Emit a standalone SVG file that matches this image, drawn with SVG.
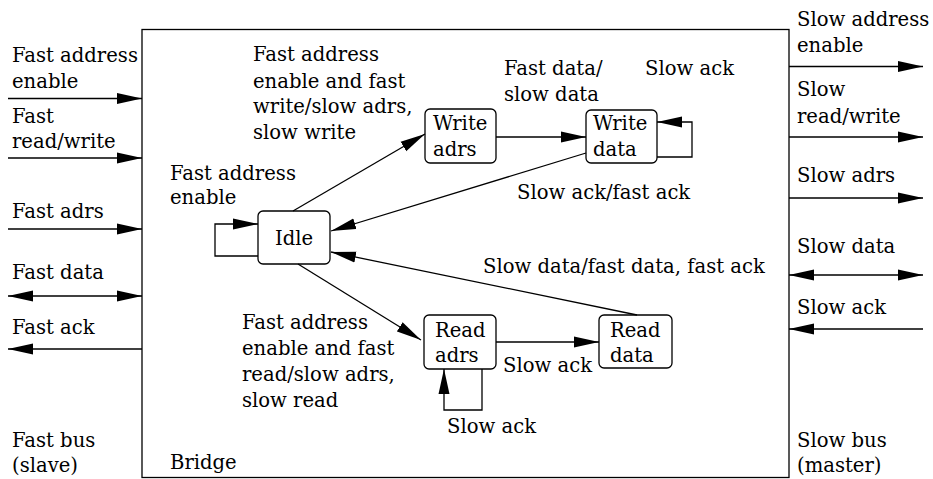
<svg xmlns="http://www.w3.org/2000/svg" width="933" height="479" viewBox="0 0 933 479">
<style>
text{font-family:"DejaVu Serif","Liberation Serif",serif;font-size:19.6px;fill:#000}
.ln{fill:none;stroke:#000;stroke-width:1.3}
.nd{fill:#fff;stroke:#000;stroke-width:1.3}
</style>
<defs>
<marker id="ah" markerUnits="userSpaceOnUse" markerWidth="25" markerHeight="12" refX="25" refY="5.5" orient="auto-start-reverse" viewBox="0 0 25 11">
<path d="M0,0 L25,5.5 L0,11 z" fill="#000"/>
</marker>
</defs>
<rect width="933" height="479" fill="#fff"/>
<g id="bridge">
<rect x="142" y="29.5" width="647" height="448" fill="none" stroke="#000" stroke-width="1.3"/>
<text x="170" y="469">Bridge</text>
</g>
<g id="fast-bus">
<text x="12" y="62">Fast address</text><text x="12" y="88">enable</text>
<text x="12" y="123">Fast</text><text x="12" y="148">read/write</text>
<text x="12" y="218">Fast adrs</text>
<text x="12" y="279">Fast data</text>
<text x="12" y="334">Fast ack</text>
<text x="12" y="447">Fast bus</text><text x="12" y="472">(slave)</text>
</g>
<g id="slow-bus">
<text x="797" y="26">Slow address</text><text x="797" y="52">enable</text>
<text x="797" y="96">Slow</text><text x="797" y="123">read/write</text>
<text x="797" y="182">Slow adrs</text>
<text x="797" y="253">Slow data</text>
<text x="797" y="314">Slow ack</text>
<text x="797" y="447">Slow bus</text><text x="797" y="472">(master)</text>
</g>
<g id="idle"><rect class="nd" x="258" y="211" width="72" height="53" rx="5"/><text x="294" y="245" text-anchor="middle">Idle</text></g>
<g id="write-adrs"><rect class="nd" x="425" y="109" width="71" height="54" rx="5"/><text x="433" y="130">Write</text><text x="433" y="156">adrs</text></g>
<g id="write-data"><rect class="nd" x="586" y="110" width="71" height="53" rx="5"/><text x="593" y="130">Write</text><text x="593" y="156">data</text></g>
<g id="read-adrs"><rect class="nd" x="424" y="315" width="72" height="54" rx="5"/><text x="435" y="337">Read</text><text x="435" y="362">adrs</text></g>
<g id="read-data"><rect class="nd" x="599" y="315" width="73" height="53" rx="5"/><text x="610" y="337">Read</text><text x="610" y="362">data</text></g>
<g id="connectors">
<line class="ln" x1="8" y1="98.5" x2="142" y2="98.5" marker-end="url(#ah)"/>
<line class="ln" x1="8" y1="158" x2="142" y2="158" marker-end="url(#ah)"/>
<line class="ln" x1="8" y1="229" x2="142" y2="229" marker-end="url(#ah)"/>
<line class="ln" x1="8" y1="296" x2="142" y2="296" marker-start="url(#ah)" marker-end="url(#ah)"/>
<line class="ln" x1="142" y1="349" x2="8" y2="349" marker-end="url(#ah)"/>
<line class="ln" x1="789" y1="66.5" x2="923" y2="66.5" marker-end="url(#ah)"/>
<line class="ln" x1="789" y1="137" x2="923" y2="137" marker-end="url(#ah)"/>
<line class="ln" x1="789" y1="198" x2="923" y2="198" marker-end="url(#ah)"/>
<line class="ln" x1="789" y1="275" x2="923" y2="275" marker-start="url(#ah)" marker-end="url(#ah)"/>
<line class="ln" x1="923" y1="329" x2="789" y2="329" marker-end="url(#ah)"/>
<path class="ln" d="M258,256 H215 V224 H258" marker-end="url(#ah)"/>
<line class="ln" x1="293" y1="211" x2="425" y2="134" marker-end="url(#ah)"/>
<line class="ln" x1="496" y1="137" x2="586" y2="137" marker-end="url(#ah)"/>
<path class="ln" d="M657,157 H692 V122 H657" marker-end="url(#ah)"/>
<line class="ln" x1="586" y1="153" x2="331" y2="231" marker-end="url(#ah)"/>
<line class="ln" x1="637" y1="315" x2="331" y2="252" marker-end="url(#ah)"/>
<line class="ln" x1="298" y1="264" x2="421" y2="340" marker-end="url(#ah)"/>
<line class="ln" x1="496" y1="342" x2="599" y2="342" marker-end="url(#ah)"/>
<path class="ln" d="M482,369 V410 H444 V369" marker-end="url(#ah)"/>
</g>
<g id="labels">
<text x="253" y="61">Fast address</text><text x="253" y="88">enable and fast</text><text x="253" y="113">write/slow adrs,</text><text x="253" y="139">slow write</text>
<text x="170" y="180">Fast address</text><text x="170" y="204">enable</text>
<text x="504" y="75">Fast data/</text><text x="504" y="101">slow data</text>
<text x="645" y="75">Slow ack</text>
<text x="517" y="199">Slow ack/fast ack</text>
<text x="483" y="273">Slow data/fast data, fast ack</text>
<text x="242" y="329">Fast address</text><text x="242" y="355">enable and fast</text><text x="242" y="381">read/slow adrs,</text><text x="242" y="407">slow read</text>
<text x="503" y="372">Slow ack</text>
<text x="447" y="433">Slow ack</text>
</g>
</svg>
